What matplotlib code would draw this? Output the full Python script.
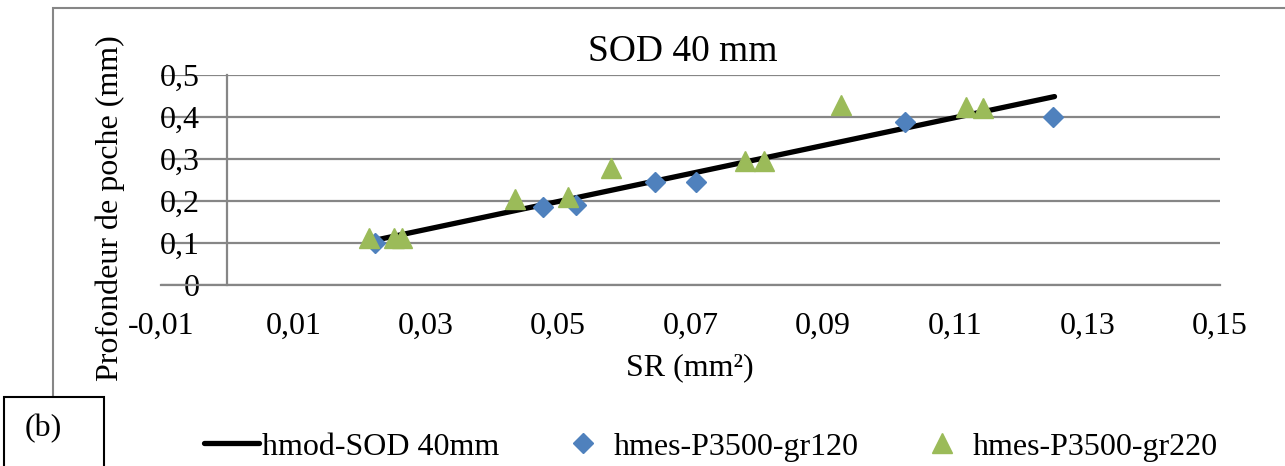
import matplotlib
matplotlib.use("Agg")
import matplotlib.pyplot as plt
from matplotlib.patches import Rectangle
from matplotlib.ticker import FuncFormatter

plt.rcParams['font.family'] = ['Liberation Serif', 'DejaVu Serif']
plt.rcParams['font.size'] = 23

# model line
sr_mod = [0.0222, 0.125]
h_mod = [0.106, 0.448]

# measured, grit 120
sr_120 = [0.0223, 0.0477, 0.0527, 0.0647, 0.0709, 0.1024, 0.1248]
h_120 = [0.100, 0.186, 0.190, 0.246, 0.245, 0.387, 0.400]

# measured, grit 220
sr_220 = [0.0215, 0.0252, 0.0264, 0.0435, 0.0515, 0.0580, 0.0782, 0.0811, 0.0927, 0.1117, 0.1142]
h_220 = [0.112, 0.112, 0.112, 0.205, 0.209, 0.279, 0.296, 0.296, 0.427, 0.423, 0.420]

xticks = [-0.01, 0.01, 0.03, 0.05, 0.07, 0.09, 0.11, 0.13, 0.15]
yticks = [0, 0.1, 0.2, 0.3, 0.4, 0.5]

grey = '#868686'
blue = '#4F81BD'
green = '#9BBB59'

fig = plt.figure(figsize=(12.85, 4.66), dpi=100)
ax = fig.add_axes([0.1253, 0.3884, 0.8241, 0.4513])

ax.plot(sr_mod, h_mod, color='black', lw=3.8, solid_capstyle='round',
        label='hmod-SOD 40mm', zorder=3)
ax.plot(sr_120, h_120, 'D', color=blue, ms=10, ls='none',
        label='hmes-P3500-gr120', zorder=4)
ax.plot(sr_220, h_220, '^', color=green, ms=14, ls='none',
        label='hmes-P3500-gr220', zorder=5)

ax.set_xlim(-0.01, 0.15)
ax.set_ylim(0, 0.5)
ax.set_xticks(xticks)
ax.set_yticks(yticks)
ax.xaxis.set_major_formatter(FuncFormatter(lambda v, p: f"{v:.2f}".replace('.', ',')))
ax.yaxis.set_major_formatter(FuncFormatter(lambda v, p: '0' if abs(v) < 1e-9 else f"{v:.1f}".replace('.', ',')))
ax.tick_params(axis='both', length=0)
ax.tick_params(axis='x', pad=19)
ax.tick_params(axis='y', pad=20)

ax.grid(axis='y', color=grey, lw=1.6)
ax.set_axisbelow(True)
for s in ['top', 'right']:
    ax.spines[s].set_visible(False)
ax.spines['left'].set_position(('data', 0))
ax.spines['left'].set_color(grey)
ax.spines['left'].set_linewidth(1.6)
ax.spines['bottom'].set_color(grey)
ax.spines['bottom'].set_linewidth(1.6)

fig.text(0.531, 0.888, 'SOD 40 mm', ha='center', va='center', fontsize=27)
fig.text(0.537, 0.21, 'SR (mm²)', ha='center', va='center')
fig.text(0.086, 0.554, 'Profondeur de poche (mm)', ha='center', va='center', rotation=90)

# outer chart border (cut by the image edges)
fig.add_artist(Rectangle((53 / 1285, -0.2), 1.2, 0.983 + 0.2, transform=fig.transFigure,
                         fill=False, edgecolor=grey, lw=1.5, zorder=0))
# (b) box
fig.add_artist(Rectangle((4 / 1285, -0.2), 100 / 1285, 1 - 397 / 466 + 0.2,
                         transform=fig.transFigure, facecolor='white',
                         edgecolor='black', lw=1.5, zorder=2))
fig.text(43 / 1285, 1 - 429 / 466, '(b)', ha='center', va='center', zorder=3)

fig.legend(loc='center left', bbox_to_anchor=(204 / 1285, 0.041), ncol=3, frameon=False,
           handlelength=1.72, handletextpad=0.1, columnspacing=1.75,
           borderaxespad=0, borderpad=0)

fig.savefig('out.png', dpi=100)
